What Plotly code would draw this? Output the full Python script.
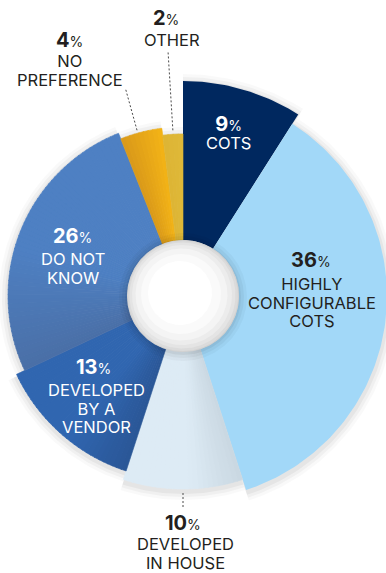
import math
import plotly.graph_objects as go

# Survey shares, listed clockwise from 12 o'clock
categories = ["COTS", "HIGHLY CONFIGURABLE COTS", "DEVELOPED IN HOUSE",
              "DEVELOPED BY A VENDOR", "DO NOT KNOW", "NO PREFERENCE", "OTHER"]
values = [9, 36, 10, 13, 26, 4, 2]
label_lines = [["COTS"], ["HIGHLY", "CONFIGURABLE", "COTS"], ["DEVELOPED", "IN HOUSE"],
               ["DEVELOPED", "BY A", "VENDOR"], ["DO NOT", "KNOW"], ["NO", "PREFERENCE"], ["OTHER"]]

# ---- styling -------------------------------------------------------------
W, H = 386, 573
CX, CY = 183, 296           # pie centre (px)
HOLE = 56                   # hole radius (px)
outer_r = [215, 204, 193, 184, 175, 169, 162]
# (colour at start angle, colour at end angle) for each slice
shades = [("#00285F", "#00285F"), ("#A2D8F8", "#A2D8F8"), ("#C9D7E1", "#DDEBF5"),
          ("#2A5696", "#3066B0"), ("#4A6FA6", "#4E80C3"), ("#D8981A", "#F4B416"),
          ("#DDB535", "#DFB838")]
shade_span = [1.0, 1.0, 0.45, 0.45, 0.45, 1.0, 1.0]
text_colors = ["white", "#231F20", "#231F20", "white", "white", "#231F20", "#231F20"]
# label placement: number x, text x, number-line centre y, text-block centre y
num_x = [228, 311, 182.5, 93.5, 72.5, 69, 165.5]
label_x = [228.5, 312, 185, 96.5, 73, 69.5, 172]
num_y = [124, 260, 522.5, 366.5, 236, 39.5, 18]
word_y = [141.5, 302.5, 553, 408, 268, 70, 39.5]
leaders = [  # (theta deg, r_inner, r_outer)
    (180, 197, 211),
    (344.5, 172, 216),
    (356.5, 166, 246),
]


def pt(theta_deg, r, cx=CX, cy=CY):
    t = math.radians(theta_deg)
    return cx + r * math.sin(t), cy - r * math.cos(t)


def wedge(t0, t1, r0, r1, cx=CX, cy=CY, step=1.0):
    n = max(2, int(abs(t1 - t0) / step) + 1)
    angs = [t0 + (t1 - t0) * i / (n - 1) for i in range(n)]
    xs, ys = [], []
    for a in angs:
        x, y = pt(a, r1, cx, cy)
        xs.append(x); ys.append(y)
    for a in reversed(angs):
        x, y = pt(a, r0, cx, cy)
        xs.append(x); ys.append(y)
    xs.append(xs[0]); ys.append(ys[0])
    return xs, ys


def mix(c0, c1, f):
    a = [int(c0[i:i + 2], 16) for i in (1, 3, 5)]
    b = [int(c1[i:i + 2], 16) for i in (1, 3, 5)]
    return "#%02X%02X%02X" % tuple(round(a[k] + (b[k] - a[k]) * f) for k in range(3))


def poly(xs, ys, color, line_w=0):
    return go.Scatter(x=xs, y=ys, mode="lines", fill="toself", fillcolor=color,
                      line=dict(width=line_w, color=color), hoverinfo="skip",
                      showlegend=False)


total = sum(values)
starts, ends = [], []
acc = 0
for v in values:
    starts.append(acc / total * 360)
    acc += v
    ends.append(acc / total * 360)

fig = go.Figure()

# soft drop shadow under the ring
for k, a in [(9, 0.025), (6, 0.035), (3, 0.045)]:
    for s, e, ro in zip(starts, ends, outer_r):
        xs, ys = wedge(s, e, 0, ro + k, cy=CY + 2)
        fig.add_trace(poly(xs, ys, "rgba(0,0,0,%s)" % a))

# slices, each split into thin strips so the fill can shade across the slice
for i, (s, e, ro) in enumerate(zip(starts, ends, outer_r)):
    c0, c1 = shades[i]
    nstrip = 1 if c0 == c1 else max(1, int((e - s) / 1.5))
    for j in range(nstrip):
        a0 = s + (e - s) * j / nstrip
        a1 = s + (e - s) * (j + 1) / nstrip
        f = min(1.0, ((j + 0.5) / nstrip) / shade_span[i])
        col = mix(c0, c1, f)
        xs, ys = wedge(a0, a1 + 0.2 if j < nstrip - 1 else a1, HOLE, ro)
        fig.add_trace(poly(xs, ys, col, line_w=0.6 if nstrip > 1 else 0))

# shadow cast around the hole
for rr, a in [(64, 0.03), (61, 0.04), (58, 0.05)]:
    xs, ys = wedge(0, 360, 0, rr, cy=CY + 1)
    fig.add_trace(poly(xs, ys, "rgba(0,0,0,%s)" % a))

# shaded centre disc
for rr, c, off in [(HOLE, "#D2D2D2", 0), (55, "#DBDBDB", 0), (53, "#E4E4E4", -0.5),
                   (50, "#ECECEC", -1), (46, "#F4F4F4", -1.5), (40, "#FAFAFA", -2),
                   (32, "#FFFFFF", -3)]:
    xs, ys = wedge(0, 360, 0, rr, cx=CX + off, cy=CY + off)
    fig.add_trace(poly(xs, ys, c))

# dashed leaders to the outside labels
for th, r0, r1 in leaders:
    x0, y0 = pt(th, r0)
    x1, y1 = pt(th, r1)
    fig.add_trace(go.Scatter(x=[x0, x1], y=[y0, y1], mode="lines",
                             line=dict(color="#4A4A4A", width=1, dash="2px,2px"),
                             hoverinfo="skip", showlegend=False))

FONT = "Inter"
for i, v in enumerate(values):
    num = ("<b><span style='font-size:20px'>%d</span></b>"
           "<span style='font-size:14px'>%%</span>" % v)
    words = ["<span style='font-size:16.5px'>%s</span>" % ln for ln in label_lines[i]]
    gap = word_y[i] - num_y[i]
    if len(words) == 1 and gap < 20:
        # tight single-line label: one text block, line pitch set by the base size
        fig.add_annotation(x=(num_x[i] + label_x[i]) / 2, y=(num_y[i] + word_y[i]) / 2,
                           text=num + "<br>" + words[0], showarrow=False,
                           xanchor="center", yanchor="middle",
                           font=dict(family=FONT, size=gap / 1.3, color=text_colors[i]))
        continue
    fig.add_annotation(x=num_x[i], y=num_y[i], text=num, showarrow=False,
                       xanchor="center", yanchor="middle",
                       font=dict(family=FONT, size=20, color=text_colors[i]))
    fig.add_annotation(x=label_x[i], y=word_y[i], text="<br>".join(words), showarrow=False,
                       xanchor="center", yanchor="middle",
                       font=dict(family=FONT, size=14.3, color=text_colors[i]))

fig.update_layout(
    width=W, height=H,
    margin=dict(l=0, r=0, t=0, b=0),
    paper_bgcolor="white", plot_bgcolor="white",
    xaxis=dict(range=[0, W], visible=False, fixedrange=True),
    yaxis=dict(range=[H, 0], visible=False, fixedrange=True),
)

fig.write_html("out.html")
